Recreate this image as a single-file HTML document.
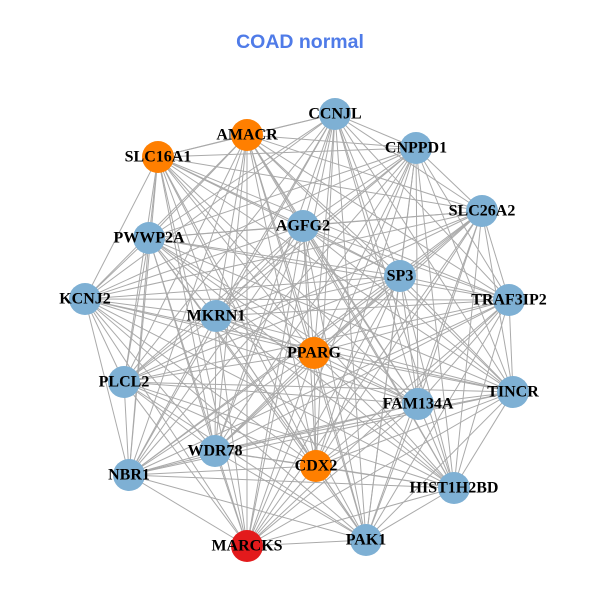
<!DOCTYPE html>
<html><head><meta charset="utf-8"><style>
body{margin:0;background:#fff}
svg{display:block}
text.l{font-family:"Liberation Serif",serif;font-weight:bold;font-size:16px;fill:#000;text-anchor:middle;dominant-baseline:central}
</style></head><body>
<svg id="s" width="600" height="600" viewBox="0 0 600 600">
<rect width="600" height="600" fill="#fff"/>
<text x="300" y="48" text-anchor="middle" font-family="Liberation Sans,sans-serif" font-weight="bold" font-size="19.5" fill="#4f7be8">COAD normal</text>
<g id="e" stroke="#aaaaaa" stroke-width="1"></g>
<g id="n">
<circle cx="335" cy="114" r="16" fill="#7eb0d4"/>
<circle cx="247" cy="135" r="16" fill="#ff7f00"/>
<circle cx="416" cy="148" r="16" fill="#7eb0d4"/>
<circle cx="158" cy="157" r="16" fill="#ff7f00"/>
<circle cx="482" cy="211" r="16" fill="#7eb0d4"/>
<circle cx="303" cy="226" r="16" fill="#7eb0d4"/>
<circle cx="149" cy="238" r="16" fill="#7eb0d4"/>
<circle cx="400" cy="276" r="16" fill="#7eb0d4"/>
<circle cx="85" cy="299" r="16" fill="#7eb0d4"/>
<circle cx="509" cy="300" r="16" fill="#7eb0d4"/>
<circle cx="216" cy="316" r="16" fill="#7eb0d4"/>
<circle cx="314" cy="353" r="16" fill="#ff7f00"/>
<circle cx="124" cy="382" r="16" fill="#7eb0d4"/>
<circle cx="513" cy="392" r="16" fill="#7eb0d4"/>
<circle cx="418" cy="404" r="16" fill="#7eb0d4"/>
<circle cx="215" cy="451" r="16" fill="#7eb0d4"/>
<circle cx="316" cy="466" r="16" fill="#ff7f00"/>
<circle cx="129" cy="475" r="16" fill="#7eb0d4"/>
<circle cx="454" cy="488" r="16" fill="#7eb0d4"/>
<circle cx="366" cy="540" r="16" fill="#7eb0d4"/>
<circle cx="247" cy="546" r="16" fill="#e31a1c"/>
</g>
<text class="l" x="335" y="114">CCNJL</text>
<text class="l" x="247" y="135">AMACR</text>
<text class="l" x="416" y="148">CNPPD1</text>
<text class="l" x="158" y="157">SLC16A1</text>
<text class="l" x="482" y="211">SLC26A2</text>
<text class="l" x="303" y="226">AGFG2</text>
<text class="l" x="149" y="238">PWWP2A</text>
<text class="l" x="400" y="276">SP3</text>
<text class="l" x="85" y="299">KCNJ2</text>
<text class="l" x="509" y="300">TRAF3IP2</text>
<text class="l" x="216" y="316">MKRN1</text>
<text class="l" x="314" y="353">PPARG</text>
<text class="l" x="124" y="382">PLCL2</text>
<text class="l" x="513" y="392">TINCR</text>
<text class="l" x="418" y="404">FAM134A</text>
<text class="l" x="215" y="451">WDR78</text>
<text class="l" x="316" y="466">CDX2</text>
<text class="l" x="129" y="475">NBR1</text>
<text class="l" x="454" y="488">HIST1H2BD</text>
<text class="l" x="366" y="540">PAK1</text>
<text class="l" x="247" y="546">MARCKS</text>
</svg>
<script>
var c=document.querySelectorAll('#n circle'),g=document.getElementById('e'),ns='http://www.w3.org/2000/svg';
for(var i=0;i<c.length;i++)for(var j=i+1;j<c.length;j++){
var l=document.createElementNS(ns,'line');
l.setAttribute('x1',c[i].getAttribute('cx'));l.setAttribute('y1',c[i].getAttribute('cy'));
l.setAttribute('x2',c[j].getAttribute('cx'));l.setAttribute('y2',c[j].getAttribute('cy'));
g.appendChild(l);}
</script>
</body></html>
